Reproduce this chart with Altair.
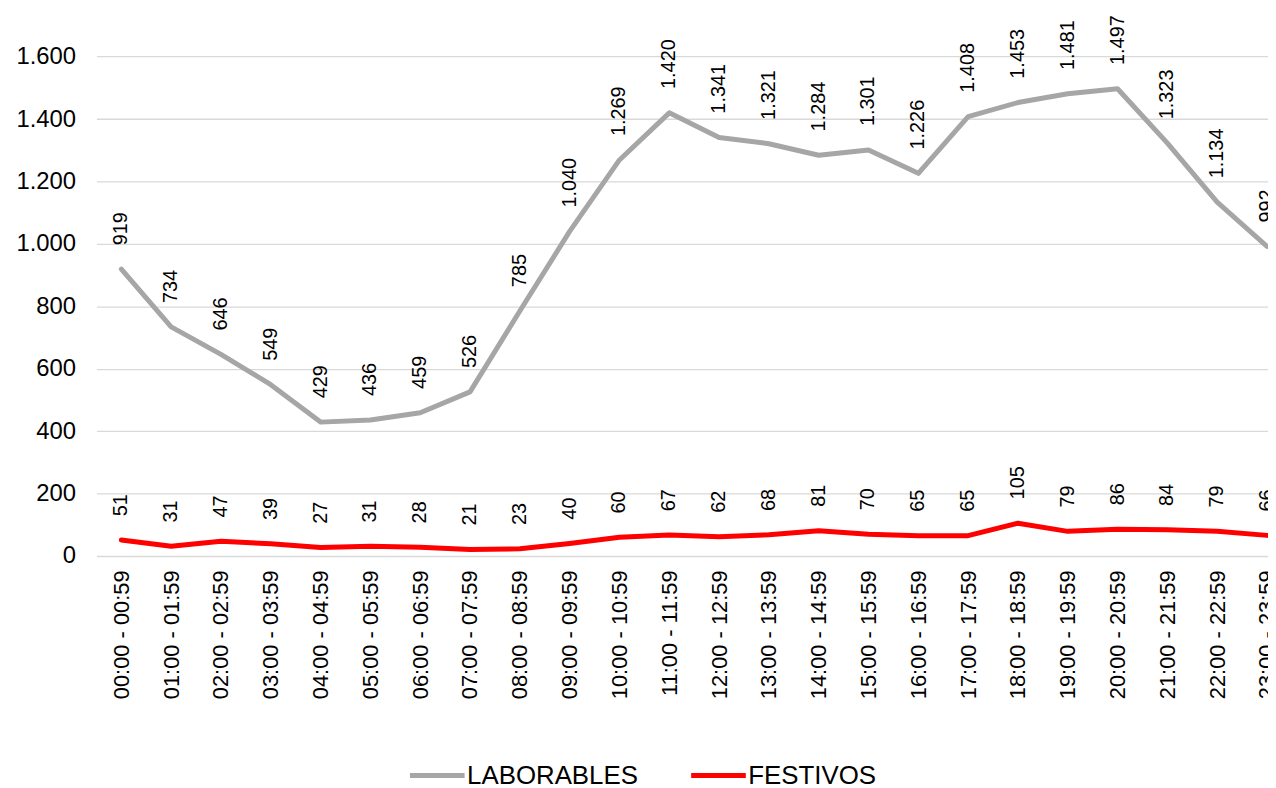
import json
import altair as alt
import pandas as pd

HOURS = [f"{h:02d}:00 - {h:02d}:59" for h in range(24)]
LABORABLES = [919, 734, 646, 549, 429, 436, 459, 526, 785, 1040, 1269, 1420,
              1341, 1321, 1284, 1301, 1226, 1408, 1453, 1481, 1497, 1323, 1134, 992]
FESTIVOS = [51, 31, 47, 39, 27, 31, 28, 21, 23, 40, 60, 67,
            62, 68, 81, 70, 65, 65, 105, 79, 86, 84, 79, 66]
SERIES = ["LABORABLES", "FESTIVOS"]
COLORS = ["#a6a6a6", "#ff0000"]
Y_TICKS = [0, 200, 400, 600, 800, 1000, 1200, 1400, 1600]

rows = []
for name, vals in zip(SERIES, [LABORABLES, FESTIVOS]):
    for i, v in enumerate(vals):
        rows.append({"idx": i, "hora": HOURS[i], "serie": name, "valor": v,
                     "etiqueta": f"{v:,}".replace(",", ".")})
df = pd.DataFrame(rows)

FONT = "Liberation Sans"
hours_js = json.dumps(HOURS)

x = alt.X("idx:Q",
          scale=alt.Scale(domain=[-0.5, 23.02], nice=False, zero=False),
          axis=alt.Axis(values=list(range(24)), labelExpr=f"{hours_js}[datum.value]",
                        labelAngle=270, labelFontSize=22, labelFont=FONT, labelColor="#000000",
                        labelPadding=14, ticks=False, domain=False, grid=False,
                        labelOverlap=False, labelFlush=False, title=None))
y = alt.Y("valor:Q",
          scale=alt.Scale(domain=[0, 1748], nice=False),
          axis=alt.Axis(values=Y_TICKS,
                        labelExpr="replace(format(datum.value, ','), ',', '.')",
                        labelFontSize=24, labelFont=FONT, labelColor="#000000",
                        labelPadding=21, ticks=False, domain=False,
                        grid=True, gridColor="#d9d9d9", gridWidth=1.3, title=None))
color = alt.Color("serie:N",
                  scale=alt.Scale(domain=SERIES, range=COLORS),
                  sort=SERIES,
                  legend=alt.Legend(orient="none", legendX=313, legendY=740,
                                    direction="horizontal", title=None,
                                    symbolType="stroke", symbolSize=3025,
                                    symbolStrokeWidth=5, labelFontSize=26,
                                    labelFont=FONT, labelColor="#000000",
                                    labelLimit=400, labelOffset=0,
                                    columnPadding=43, padding=0))

base = alt.Chart(df)
lines = base.mark_line(strokeWidth=5, strokeCap="round", strokeJoin="round").encode(
    x=x, y=y, color=color, detail="serie:N")
texts = base.mark_text(angle=270, align="left", baseline="middle", dx=24,
                       fontSize=20, font=FONT, color="#000000").encode(
    x="idx:Q", y="valor:Q", text="etiqueta:N")

chart = alt.layer(lines, texts).properties(
    width=1179, height=549,
    autosize=alt.AutoSizeParams(type="none"),
    padding={"left": 89, "top": 0, "right": 0, "bottom": 231},
).configure(background="white").configure_view(stroke=None)

chart.save("out.html", embed_options={"renderer": "svg", "actions": False})
